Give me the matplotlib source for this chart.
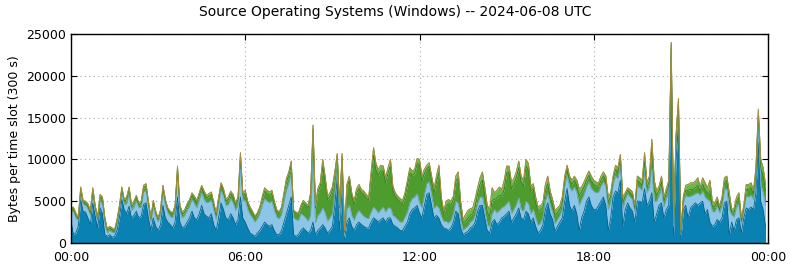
import numpy as np
import matplotlib
matplotlib.use("Agg")
import matplotlib.pyplot as plt

# 5-minute slots over the day, values in units of 100 bytes
total = [
    42, 43, 36, 31, 67, 51, 50, 47, 39, 66, 45, 31,
    58, 55, 30, 17, 20, 18, 16, 28, 45, 67, 52, 55,
    67, 46, 50, 57, 48, 50, 69, 71, 50, 31, 51, 38,
    30, 40, 69, 52, 42, 38, 36, 45, 92, 45, 37, 40,
    47, 52, 60, 56, 51, 60, 69, 62, 57, 59, 61, 48,
    36, 55, 72, 65, 53, 55, 62, 58, 48, 55, 108, 60,
    63, 50, 43, 38, 32, 36, 43, 55, 66, 63, 61, 63,
    50, 40, 37, 43, 60, 77, 85, 98, 39, 37, 36, 45,
    51, 48, 45, 60, 141, 45, 65, 72, 100, 80, 56, 60,
    67, 85, 107, 45, 107, 15, 70, 80, 60, 50, 65, 70,
    64, 62, 58, 55, 85, 114, 95, 88, 93, 92, 78, 90,
    100, 68, 60, 56, 53, 51, 60, 75, 90, 86, 88, 101,
    100, 80, 88, 93, 96, 80, 65, 80, 93, 55, 38, 50,
    52, 50, 56, 80, 85, 50, 28, 34, 39, 41, 42, 53,
    66, 78, 85, 66, 45, 40, 66, 60, 63, 67, 64, 75,
    92, 92, 73, 77, 85, 98, 80, 75, 100, 95, 68, 71,
    55, 43, 45, 48, 70, 80, 62, 52, 39, 42, 45, 55,
    80, 93, 80, 75, 80, 75, 65, 67, 73, 80, 86, 80,
    75, 73, 72, 80, 85, 80, 55, 60, 80, 93, 90, 106,
    55, 60, 66, 64, 61, 45, 80, 78, 75, 108, 72, 80,
    124, 75, 62, 68, 80, 55, 65, 75, 240, 25, 130, 173,
    15, 55, 69, 70, 72, 72, 74, 78, 67, 78, 72, 66,
    75, 50, 48, 55, 44, 55, 78, 80, 60, 40, 42, 55,
    60, 30, 45, 70, 70, 72, 63, 90, 160, 100, 90, 70,
]

blue = [
    27, 10, 12, 20, 52, 38, 37, 30, 22, 48, 32, 18,
    42, 35, 10, 8, 10, 7, 8, 15, 30, 52, 40, 35,
    44, 30, 33, 38, 30, 32, 46, 48, 30, 15, 30, 20,
    15, 22, 45, 30, 25, 22, 18, 25, 55, 25, 18, 20,
    25, 30, 38, 30, 28, 35, 45, 35, 32, 30, 35, 22,
    15, 30, 48, 40, 30, 28, 35, 30, 22, 28, 55, 30,
    25, 18, 12, 10, 8, 12, 15, 20, 25, 22, 20, 22,
    15, 10, 10, 15, 25, 35, 45, 55, 10, 8, 10, 15,
    18, 15, 12, 15, 25, 10, 15, 18, 22, 18, 12, 15,
    20, 45, 78, 15, 63, 5, 25, 30, 20, 15, 22, 25,
    22, 20, 18, 18, 25, 30, 28, 25, 28, 30, 25, 30,
    30, 22, 20, 18, 15, 15, 20, 25, 35, 40, 42, 45,
    36, 30, 45, 58, 60, 45, 30, 33, 30, 22, 18, 17,
    15, 18, 25, 38, 35, 18, 10, 12, 14, 18, 20, 25,
    38, 45, 45, 30, 15, 12, 25, 28, 22, 25, 30, 32,
    35, 38, 25, 30, 35, 42, 30, 28, 38, 35, 25, 30,
    20, 12, 15, 22, 40, 48, 35, 28, 14, 20, 25, 30,
    50, 65, 45, 38, 45, 35, 15, 30, 38, 50, 55, 45,
    40, 40, 45, 50, 55, 45, 15, 30, 55, 62, 60, 75,
    20, 40, 48, 42, 38, 25, 50, 50, 48, 65, 45, 50,
    60, 25, 35, 45, 48, 30, 40, 45, 220, 10, 100, 140,
    5, 40, 45, 30, 42, 45, 48, 45, 48, 50, 35, 40,
    25, 20, 22, 28, 25, 30, 48, 50, 10, 25, 15, 28,
    30, 12, 30, 42, 40, 43, 40, 60, 120, 50, 40, 20,
]

light_blue = [
    10, 28, 18, 7, 8, 8, 8, 11, 11, 10, 8, 8,
    8, 12, 14, 4, 5, 6, 4, 7, 8, 8, 6, 12,
    15, 9, 10, 12, 12, 11, 15, 15, 13, 10, 14, 12,
    10, 12, 16, 15, 11, 10, 12, 13, 28, 13, 12, 13,
    14, 14, 14, 17, 14, 16, 15, 17, 16, 19, 16, 17,
    13, 16, 15, 16, 15, 18, 18, 18, 17, 17, 38, 20,
    26, 22, 22, 20, 17, 17, 20, 25, 28, 28, 28, 28,
    24, 21, 19, 19, 24, 28, 27, 28, 20, 20, 17, 20,
    15, 15, 14, 18, 75, 14, 18, 18, 20, 18, 14, 15,
    15, 15, 10, 12, 12, 3, 15, 15, 13, 12, 13, 14,
    13, 12, 12, 11, 12, 13, 12, 11, 12, 13, 12, 12,
    12, 11, 11, 10, 10, 10, 11, 12, 13, 13, 13, 14,
    12, 12, 12, 13, 13, 12, 11, 12, 12, 10, 8, 9,
    9, 9, 10, 12, 12, 9, 5, 6, 6, 7, 7, 8,
    9, 10, 10, 9, 7, 7, 10, 12, 14, 14, 12, 12,
    12, 12, 10, 10, 11, 12, 10, 10, 12, 12, 10, 10,
    10, 9, 9, 8, 10, 11, 10, 9, 9, 8, 8, 10,
    18, 16, 22, 24, 22, 25, 30, 22, 20, 17, 18, 20,
    22, 20, 16, 18, 18, 22, 25, 18, 15, 18, 17, 18,
    20, 12, 11, 13, 14, 12, 18, 16, 15, 20, 15, 17,
    30, 25, 15, 12, 17, 13, 13, 16, 12, 10, 18, 20,
    5, 8, 12, 25, 14, 12, 11, 15, 9, 12, 20, 12,
    25, 18, 15, 16, 11, 14, 16, 15, 30, 9, 16, 15,
    17, 10, 9, 14, 15, 14, 12, 15, 20, 20, 20, 25,
]

dark_green = [
    3, 3, 3, 2, 4, 3, 3, 3, 3, 4, 3, 3,
    5, 5, 4, 3, 3, 3, 2, 4, 4, 4, 4, 5,
    5, 4, 4, 4, 4, 4, 5, 5, 4, 4, 4, 4,
    3, 4, 5, 5, 4, 4, 4, 4, 6, 4, 4, 4,
    5, 5, 5, 6, 6, 6, 6, 7, 6, 7, 7, 6,
    5, 6, 6, 6, 5, 6, 6, 7, 6, 7, 10, 7,
    8, 7, 6, 6, 5, 5, 6, 7, 9, 9, 9, 9,
    8, 7, 6, 7, 8, 10, 9, 10, 7, 7, 7, 8,
    15, 15, 16, 24, 36, 18, 28, 32, 50, 38, 26, 25,
    28, 22, 16, 15, 28, 5, 26, 30, 23, 19, 25, 26,
    25, 26, 24, 22, 42, 62, 48, 45, 46, 43, 35, 42,
    50, 30, 25, 24, 24, 22, 24, 32, 36, 28, 28, 36,
    45, 32, 26, 18, 18, 18, 19, 28, 42, 18, 9, 18,
    23, 18, 17, 24, 30, 18, 9, 8, 9, 8, 8, 10,
    12, 15, 20, 18, 15, 13, 16, 12, 18, 18, 14, 20,
    37, 35, 30, 30, 32, 36, 33, 30, 42, 40, 27, 25,
    18, 17, 15, 12, 12, 12, 10, 9, 10, 8, 7, 9,
    7, 7, 8, 8, 8, 9, 12, 9, 9, 8, 8, 9,
    8, 8, 7, 7, 7, 8, 9, 7, 6, 8, 8, 8,
    8, 4, 4, 5, 5, 4, 7, 6, 6, 12, 6, 7,
    24, 15, 7, 6, 9, 7, 7, 8, 6, 4, 8, 8,
    3, 4, 6, 8, 8, 7, 7, 9, 5, 8, 9, 7,
    12, 6, 6, 6, 4, 6, 8, 10, 12, 3, 6, 7,
    7, 4, 3, 8, 9, 9, 7, 10, 14, 20, 20, 18,
]

slot_minutes = 5
tick_labels = ["00:00", "06:00", "12:00", "18:00", "00:00"]

# Convert to bytes
tot = np.array(total) * 100.0
b1 = np.array(blue) * 100.0
b2 = np.array(light_blue) * 100.0
g1 = np.array(dark_green) * 100.0
g2 = np.clip(tot - b1 - b2 - g1, 0, None)   # light green on top
x = np.arange(len(total)) * slot_minutes

layers = [b1, b2, g1, g2]
colors = ["#0a81b3", "#8cc5e5", "#4e9b2e", "#6cb84c"]
edges = ["#07628a", "#6aa6c8", "#3b7d22", "#55993a"]

fig = plt.figure(figsize=(7.9, 2.67), dpi=100)
ax = fig.add_axes([71 / 790, 24 / 267, 697 / 790, 209 / 267])

base = np.zeros(len(x))
for vals, c, ec in zip(layers, colors, edges):
    top = base + vals
    ax.fill_between(x, base, top, color=c, linewidth=0)
    ax.plot(x, top, color=ec, linewidth=0.6)
    base = top
ax.plot(x, base, color="#b08a3c", linewidth=0.6)

ax.set_xlim(0, 1440)
ax.set_ylim(0, 25000)
ax.set_xticks([0, 360, 720, 1080, 1440])
ax.set_xticklabels(tick_labels)
ax.set_yticks(range(0, 25001, 5000))
ax.tick_params(direction="in", top=True, right=True, labelsize=9, length=4)
ax.tick_params(axis="x", pad=6)
ax.grid(True, color="#aaaaaa", linestyle=(0, (1, 3)), linewidth=0.8)
ax.set_axisbelow(True)
for s in ax.spines.values():
    s.set_linewidth(1.0)

ax.set_ylabel("Bytes per time slot (300 s)", fontsize=9)
fig.suptitle("Source Operating Systems (Windows) -- 2024-06-08 UTC", fontsize=10, y=0.98)

fig.savefig("out.png", dpi=100)
